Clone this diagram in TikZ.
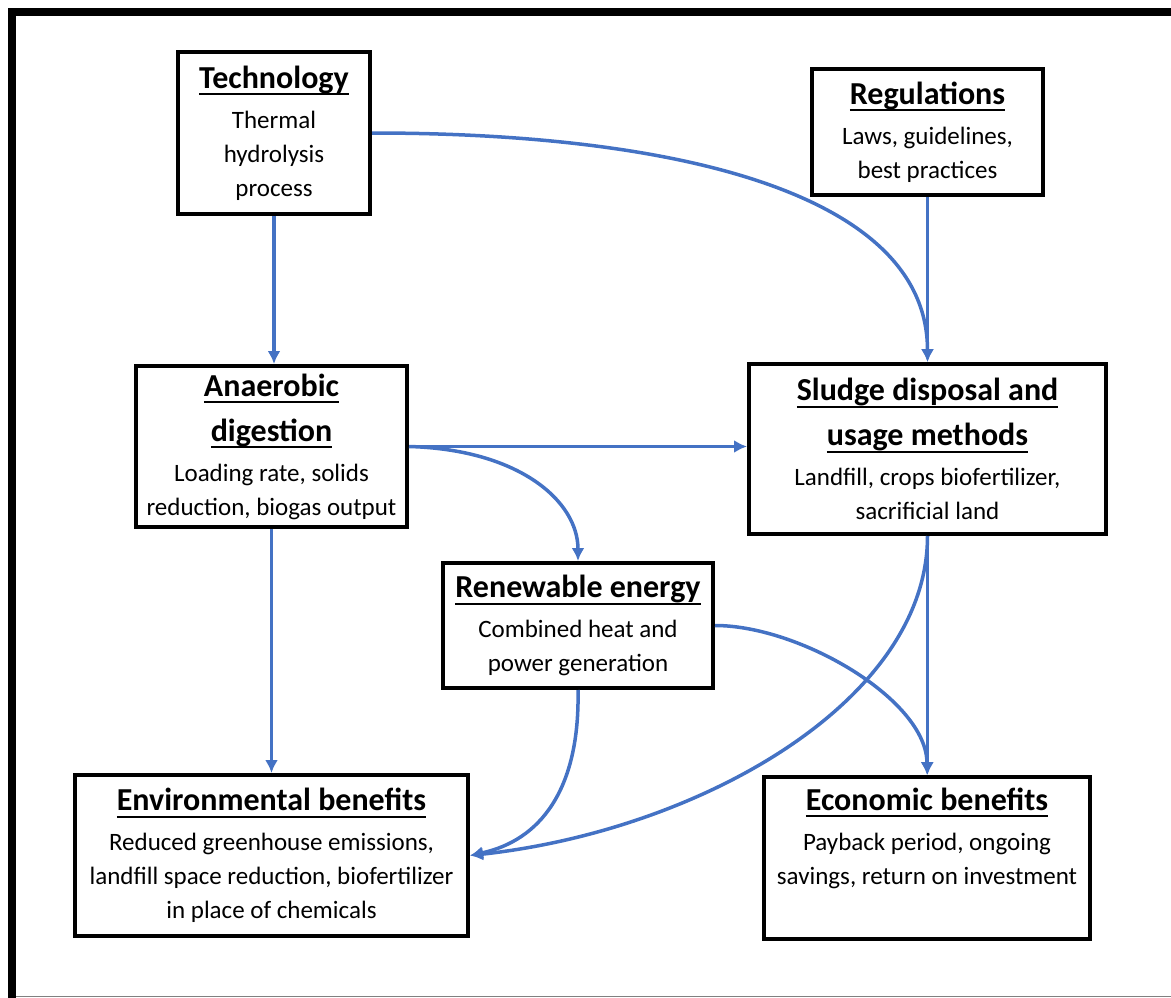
\documentclass[tikz,border=0pt]{standalone}
\usepackage{fontspec}
\setmainfont{Carlito}
\usetikzlibrary{arrows.meta}
\definecolor{arrowblue}{HTML}{4472C4}
\definecolor{bodytext}{HTML}{1A1A1A}
\newcommand\ttl[1]{\setbox0\hbox{\fontsize{32}{45}\selectfont\bfseries\color{black}#1}\rlap{\rule[-7pt]{\wd0}{2pt}}\box0}
\begin{document}
\begin{tikzpicture}[x=1pt,y=-1pt,
  box/.style={draw,line width=4pt,inner sep=0pt,align=center,text=bodytext,font=\fontsize{25}{34}\selectfont},
  link/.style={draw=arrowblue,line width=3.5pt,-{Latex[length=13pt,width=13pt]}}]
\useasboundingbox (0,0) rectangle (1171,998);
\draw[line width=8pt] (12,998) -- (12,12.5) -- (1171,12.5);
\draw[gray,line width=1.5pt] (16,996.5) -- (1171,996.5);

\node[box,minimum width=192pt,minimum height=162pt] (tech) at (274,133)
  {\ttl{Technology}\\[6pt]Thermal\\hydrolysis\\process};
\node[box,minimum width=231pt,minimum height=126pt] (reg) at (927.5,132)
  {\ttl{Regulations}\\[6pt]Laws, guidelines,\\best practices};
\node[box,minimum width=271pt,minimum height=161pt] (ana) at (271.5,446.5)
  {\ttl{Anaerobic}\\[11pt]\ttl{digestion}\\[6pt]Loading rate, solids\\reduction, biogas output};
\node[box,minimum width=357pt,minimum height=170pt] (sludge) at (927.5,449)
  {\ttl{Sludge disposal and}\\[11pt]\ttl{usage methods}\\[6pt]Landfill, crops biofertilizer,\\sacrificial land};
\node[box,minimum width=270pt,minimum height=125pt] (ren) at (578,625.5)
  {\ttl{Renewable energy}\\[6pt]Combined heat and\\power generation};
\node[box,minimum width=393pt,minimum height=161pt] (env) at (271.5,855.5)
  {\ttl{Environmental benefits}\\[6pt]Reduced greenhouse emissions,\\landfill space reduction, biofertilizer\\in place of chemicals};
\node[box,minimum width=326pt,minimum height=162pt] (eco) at (927,858)
  {\ttl{Economic benefits}\\[6pt]Payback period, ongoing\\savings, return on investment\\\strut};

\draw[link] (tech.south) -- (tech.south |- ana.north);
\draw[link] (tech.east) .. controls +(300,0) and +(0,-170) .. (sludge.north);
\draw[link] (reg.south) -- (sludge.north);
\draw[link] (ana.east) -- (ana.east -| sludge.west);
\draw[link] (ana.east) .. controls +(110,3) and +(0,-60) .. (ren.north);
\draw[link] (ana.south) -- (env.north);
\draw[link] (sludge.south) -- (sludge.south |- eco.north);
\draw[link] (sludge.south) .. controls +(0,165) and +(230,-25) .. (env.east);
\draw[link] (ren.south) .. controls +(2,100) and +(70,-15) .. (env.east);
\draw[link] (ren.east) .. controls +(85,0) and +(0,-75) .. (eco.north);
\end{tikzpicture}
\end{document}
